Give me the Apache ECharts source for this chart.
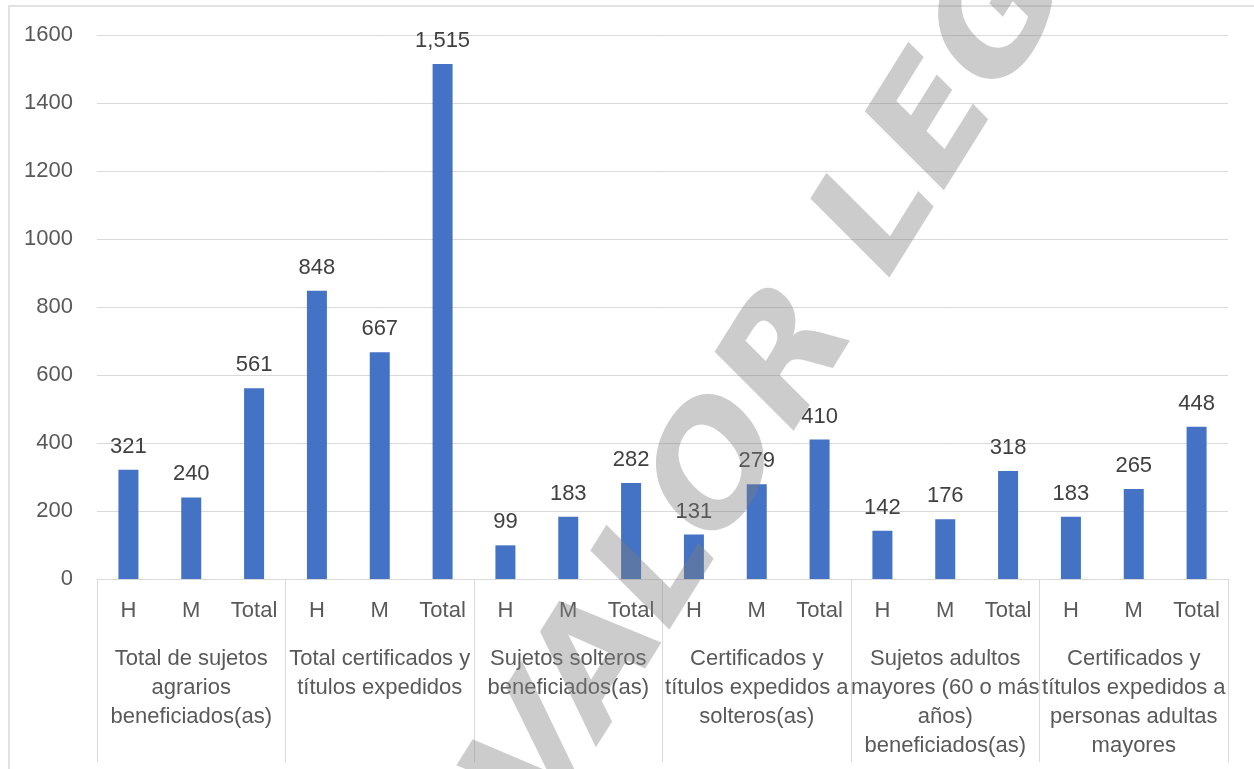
<!DOCTYPE html>
<html>
<head>
<meta charset="utf-8">
<script src="https://cdn.jsdelivr.net/npm/echarts@6/dist/echarts.min.js"></script>
<style>
  html, body { margin: 0; padding: 0; background: #fff; }
  #chart { width: 1254px; height: 769px; }
</style>
</head>
<body>
<div id="chart"></div>
<script>
// sub categories (one per bar)
var subLabels = ['H', 'M', 'Total', 'H', 'M', 'Total', 'H', 'M', 'Total',
  'H', 'M', 'Total', 'H', 'M', 'Total', 'H', 'M', 'Total']
// group categories (one per 3 bars)
var groupLabels = [
  'Total de sujetos\nagrarios\nbeneficiados(as)',
  'Total certificados y\ntítulos expedidos',
  'Sujetos solteros\nbeneficiados(as)',
  'Certificados y\ntítulos expedidos a\nsolteros(as)',
  'Sujetos adultos\nmayores (60 o más\naños)\nbeneficiados(as)',
  'Certificados y\ntítulos expedidos a\npersonas adultas\nmayores'
]
var values = [321, 240, 561, 848, 667, 1515, 99, 183, 282, 131, 279, 410, 142, 176, 318, 183, 265, 448]
var yTicks = [0, 200, 400, 600, 800, 1000, 1200, 1400, 1600]

var font = '"Liberation Sans", Arial, sans-serif'
var gridColor = '#d9d9d9'
var textColor = '#595959'

var chart = echarts.init(document.getElementById('chart'))
var option = {
  animation: false,
  textStyle: { fontFamily: font },
  grid: { left: 97, right: 26, top: 35, bottom: 190, containLabel: false },
  xAxis: [
    {
      type: 'category',
      data: subLabels,
      axisLine: { show: true, lineStyle: { color: gridColor, width: 1 } },
      axisTick: { show: false },
      axisLabel: { interval: 0, color: textColor, fontSize: 22, lineHeight: 22, margin: 21, fontFamily: font }
    },
    {
      type: 'category',
      data: groupLabels,
      position: 'bottom',
      axisLine: { show: false },
      axisTick: { show: true, interval: 0, length: 183, lineStyle: { color: gridColor, width: 1 } },
      axisLabel: { interval: 0, color: textColor, fontSize: 22, lineHeight: 29, margin: 65, fontFamily: font }
    }
  ],
  yAxis: {
    type: 'value',
    min: yTicks[0],
    max: yTicks[yTicks.length - 1],
    interval: 200,
    axisLine: { show: false },
    axisTick: { show: false },
    splitLine: { lineStyle: { color: gridColor, width: 1 } },
    axisLabel: {
      color: textColor, fontSize: 22, margin: 24, fontFamily: font,
      formatter: function (v) { return String(v) }
    }
  },
  series: [
    {
      type: 'bar',
      xAxisIndex: 0,
      data: values,
      barWidth: 20,
      itemStyle: { color: '#4472c4' },
      label: {
        show: true,
        position: 'top',
        distance: 12,
        color: '#404040',
        fontSize: 22,
        fontFamily: font,
        formatter: function (p) { return p.value.toLocaleString('en-US') }
      }
    }
  ],
  graphic: [
    {
      type: 'rect',
      shape: { x: 9, y: 6, width: 1400, height: 900 },
      style: { fill: 'none', stroke: gridColor, lineWidth: 1.5 },
      silent: true,
      z: -1
    },
    {
      // watermark, slightly stretched vertically like the source
      type: 'group',
      scaleY: 1.265,
      silent: true,
      z: 100,
      children: [
        {
          type: 'text',
          x: 832,
          y: 234,
          rotation: 51.7 * Math.PI / 180,
          style: {
            text: 'VALOR LEGAL',
            fontSize: 138,
            fontWeight: 'bold',
            fontFamily: '"DejaVu Sans", sans-serif',
            fill: 'rgba(128,128,128,0.4)',
            align: 'center',
            verticalAlign: 'middle'
          },
          silent: true,
          z: 100
        }
      ]
    }
  ]
}
chart.setOption(option)
</script>
</body>
</html>
